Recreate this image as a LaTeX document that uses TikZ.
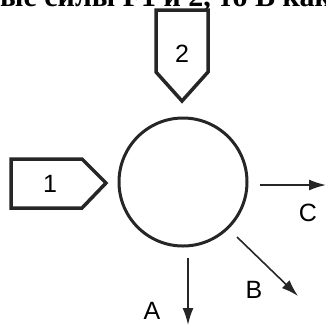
\documentclass[tikz,border=0pt]{standalone}
\usepackage{fontspec}
\setmainfont{Liberation Serif}
\setsansfont{Liberation Sans}
\usetikzlibrary{arrows.meta,calc}

\begin{document}
\begin{tikzpicture}[
    x=1pt, y=-1pt,                  % 1 drawing unit = 1 px, y downwards
    >={Latex[length=17pt,width=11pt]},
    font=\sffamily\fontsize{25}{25}\selectfont,
    body/.style={line width=3pt,black!85},
    flag/.style={line width=3.5pt,black!85,line join=miter},
    flow/.style={->,line width=1.6pt,black!85},
  ]
  \useasboundingbox (0,0) rectangle (326,325);
  \clip (0,0) rectangle (326,325);

  %% ---------------- parameters (px) ----------------
  \def\CX{183}\def\CY{182}\def\CR{64}

  %% ---------------- cut-off heading ----------------
  \node[anchor=base,inner sep=0pt,font=\rmfamily\bfseries\fontsize{30}{30}\selectfont]
       (head) at (166,6) {ые силы F1 и 2, то B как};

  %% ---------------- body ----------------
  \draw[body] (\CX,\CY) circle (\CR);
  \coordinate (body) at (\CX,\CY);

  %% ---------------- inputs ----------------
  \draw[flag] (156,10) -- (208,10) -- (208,72) -- (182,101) -- (156,72) -- cycle;
  \node (in2) at (182,54) {2};
  \draw[flag] (11,159) -- (82,159) -- (106,183) -- (82,208) -- (11,208) -- cycle;
  \node (in1) at (50,184) {1};

  %% ---------------- outputs ----------------
  \coordinate (aS) at ($(body)+(5,76)$);   \coordinate (aE) at (188,325);
  \coordinate (bS) at ($(body)+(54,55)$);  \coordinate (bE) at (298,296);
  \coordinate (cS) at ($(body)+(77,3)$);   \coordinate (cE) at (326,185);
  \draw[flow] (aS) -- (aE);
  \draw[flow] (bS) -- (bE);
  \draw[flow] (cS) -- (cE);
  \node (outA) at (152,311) {A};
  \node (outB) at (254,290) {B};
  \node (outC) at (308,213) {C};
\end{tikzpicture}
\end{document}
